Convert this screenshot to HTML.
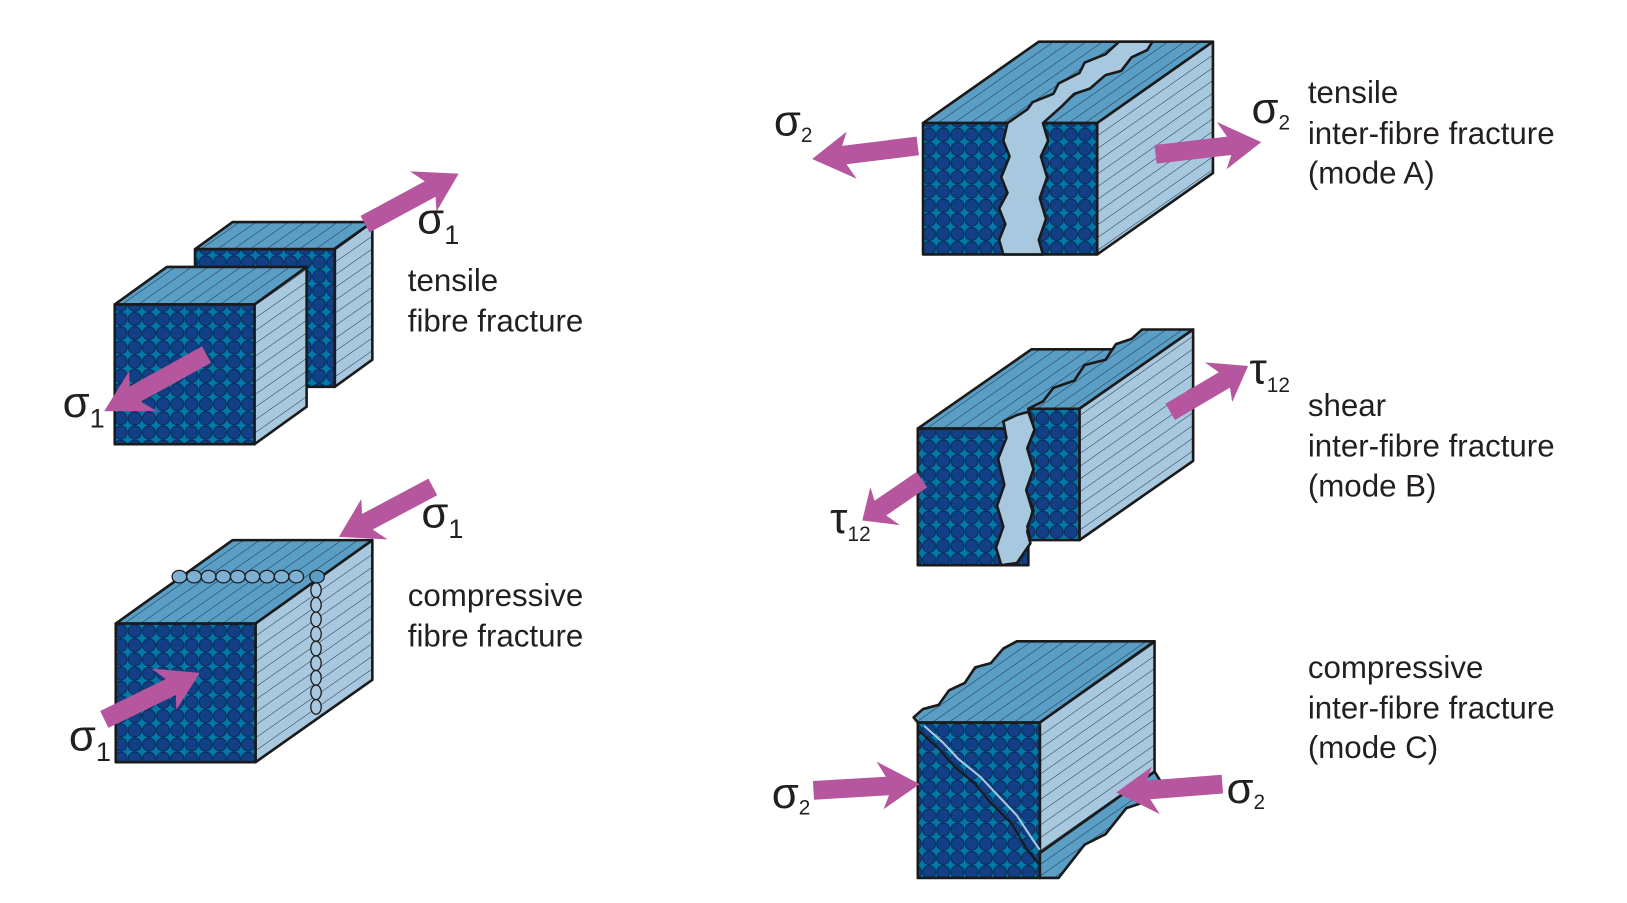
<!DOCTYPE html>
<html><head><meta charset="utf-8"><style>
html,body{margin:0;padding:0;background:#fff;}
svg{display:block;}
text{font-family:"Liberation Sans",sans-serif;fill:#231f20;}
</style></head><body>
<svg width="1627" height="903" viewBox="0 0 1560 866" preserveAspectRatio="none" xmlns="http://www.w3.org/2000/svg">
<defs>
<pattern id="circ" patternUnits="userSpaceOnUse" width="13.6" height="13.6" x="0" y="0">
<rect width="13.6" height="13.6" fill="#0078a8"/>
<circle cx="6.8" cy="6.8" r="6.2" fill="#123f86" stroke="#0a2550" stroke-width="0.9"/>
</pattern>
<pattern id="topS" patternUnits="userSpaceOnUse" width="9" height="9" patternTransform="rotate(-35)">
<rect width="9" height="9" fill="#5a9ec6"/>
<line x1="0" y1="0" x2="9" y2="0" stroke="#1a2a3a" stroke-width="0.9"/>
</pattern>
<pattern id="sideS" patternUnits="userSpaceOnUse" width="10" height="10" patternTransform="rotate(-35)">
<rect width="10" height="10" fill="#a8c8e0"/>
<line x1="0" y1="0" x2="10" y2="0" stroke="#1a2a3a" stroke-width="0.9"/>
</pattern>
<polygon id="arr" points="0,-9 70,-9 62,-24 102,0 66,22 72,9 0,9" fill="#b5569e"/>
</defs>
<g stroke="#1a1a1a" stroke-width="2.5" stroke-linejoin="round">

<!-- Tensile fibre fracture -->
<polygon points="187,239 223,213 357,213 321,239" fill="url(#topS)"/>
<polygon points="321,239 357,213 357,345 321,371" fill="url(#sideS)"/>
<rect x="187" y="239" width="134" height="132" fill="url(#circ)"/>
<polygon points="110,292 160,256 294,256 244,292" fill="url(#topS)"/>
<polygon points="244,292 294,256 294,390 244,426" fill="url(#sideS)"/>
<rect x="110" y="292" width="134" height="134" fill="url(#circ)"/>

<!-- Compressive fibre fracture -->
<polygon points="111,598 223,518 357,518 245,598" fill="url(#topS)"/>
<polygon points="245,598 357,518 357,652 245,731" fill="url(#sideS)"/>
<rect x="111" y="598" width="134" height="133" fill="url(#circ)"/>
<g fill="#7fb0d4" stroke-width="1.2">
<ellipse cx="172" cy="553" rx="7" ry="6"/><ellipse cx="186" cy="553" rx="7" ry="6"/><ellipse cx="200" cy="553" rx="7" ry="6"/><ellipse cx="214" cy="553" rx="7" ry="6"/><ellipse cx="228" cy="553" rx="7" ry="6"/><ellipse cx="242" cy="553" rx="7" ry="6"/><ellipse cx="256" cy="553" rx="7" ry="6"/><ellipse cx="270" cy="553" rx="7" ry="6"/><ellipse cx="284" cy="553" rx="7" ry="6"/><ellipse cx="304" cy="553" rx="7" ry="6" fill="#5a9ec6"/>
<ellipse cx="303" cy="566" rx="5" ry="7" fill="#a8c8e0"/><ellipse cx="303" cy="580" rx="5" ry="7" fill="#a8c8e0"/><ellipse cx="303" cy="594" rx="5" ry="7" fill="#a8c8e0"/><ellipse cx="303" cy="608" rx="5" ry="7" fill="#a8c8e0"/><ellipse cx="303" cy="622" rx="5" ry="7" fill="#a8c8e0"/><ellipse cx="303" cy="636" rx="5" ry="7" fill="#a8c8e0"/><ellipse cx="303" cy="650" rx="5" ry="7" fill="#a8c8e0"/><ellipse cx="303" cy="664" rx="5" ry="7" fill="#a8c8e0"/><ellipse cx="303" cy="678" rx="5" ry="7" fill="#a8c8e0"/>
</g>

<!-- Mode A -->
<polygon points="885,118 996,40 1163,40 1052,118" fill="url(#topS)"/>
<polygon points="1052,118 1163,40 1163,166 1052,244" fill="url(#sideS)"/>
<rect x="885" y="118" width="167" height="126" fill="url(#circ)"/>
<polygon points="962,244 958,230 964,215 958,200 966,185 960,170 968,150 962,135 966,118 985,105 990,98 1010,90 1015,80 1035,70 1040,60 1060,52 1073,40 1105,40 1100,48 1085,55 1075,68 1060,72 1045,85 1030,90 1018,102 1000,118 1005,135 998,150 1004,170 997,190 1003,210 996,230 1000,244" fill="#a8c8e0"/>

<!-- Mode B -->
<polygon points="880,411 989,335 1095,335 986,411" fill="url(#topS)"/>
<rect x="880" y="411" width="106" height="131" fill="url(#circ)"/>
<polygon points="960,542 955,525 962,505 956,485 963,465 957,440 965,420 962,404 975,398 986,395 992,412 985,430 991,450 984,470 990,490 985,510 988,521 975,540" fill="#a8c8e0"/>
<polygon points="986,392 1000,385 1010,372 1030,365 1040,350 1060,345 1070,330 1085,325 1095,316 1144,316 1035,392" fill="url(#topS)"/>
<polygon points="1035,392 1144,316 1144,442 1035,518" fill="url(#sideS)"/>
<polygon points="986,392 1035,392 1035,518 988,518 985,505 991,490 984,470 991,450 985,430 992,412" fill="url(#circ)"/>

<!-- Mode C -->
<polygon points="997,818 1107,740 1112,748 1095,770 1080,775 1060,800 1040,810 1015,842 997,842" fill="url(#topS)"/>
<polygon points="876,688 885,680 900,676 910,662 925,655 935,640 950,636 962,622 975,615 1107,615 997,693 880,693" fill="url(#topS)"/>
<polygon points="997,693 1107,615 1107,740 997,818" fill="url(#sideS)"/>
<rect x="880" y="693" width="117" height="149" fill="url(#circ)"/>
<polyline points="880,700 900,718 915,735 935,752 950,770 970,790 985,815 997,830" fill="none" stroke-width="2"/>
<polyline points="886,696 904,712 919,728 940,745 956,762 975,782 990,805 997,815" fill="none" stroke="#a8c8e0" stroke-width="2"/>
</g>

<!-- Arrows -->
<use href="#arr" transform="translate(350,215) rotate(-28.4)"/>
<use href="#arr" transform="translate(198,340) rotate(151) scale(1.1,1)"/>
<use href="#arr" transform="translate(415,467) rotate(152)"/>
<use href="#arr" transform="translate(100,690) rotate(-26)"/>
<use href="#arr" transform="translate(880,140) rotate(173)"/>
<use href="#arr" transform="translate(1108,148) rotate(-6.6)"/>
<use href="#arr" transform="translate(1122,395) rotate(-30.5) scale(0.85,1)"/>
<use href="#arr" transform="translate(884,460) rotate(145.6) scale(0.68,1)"/>
<use href="#arr" transform="translate(780,758) rotate(-3.4)"/>
<use href="#arr" transform="translate(1172,752) rotate(175.5)"/>

<!-- Symbols -->
<g font-size="42">
<text x="400" y="224">σ<tspan font-size="26" dy="10">1</tspan></text>
<text x="60" y="400">σ<tspan font-size="26" dy="10">1</tspan></text>
<text x="404" y="506">σ<tspan font-size="26" dy="10">1</tspan></text>
<text x="66" y="720">σ<tspan font-size="26" dy="10">1</tspan></text>
<text x="742" y="130">σ<tspan font-size="20" dy="6">2</tspan></text>
<text x="1200" y="118">σ<tspan font-size="20" dy="6">2</tspan></text>
<text x="1198" y="368">τ<tspan font-size="20" dy="8">12</tspan></text>
<text x="796" y="511">τ<tspan font-size="20" dy="8">12</tspan></text>
<text x="740" y="775">σ<tspan font-size="20" dy="6">2</tspan></text>
<text x="1176" y="770">σ<tspan font-size="20" dy="6">2</tspan></text>
</g>
<!-- Labels -->
<g font-size="30">
<text x="391" y="279">tensile</text>
<text x="391" y="318">fibre fracture</text>
<text x="391" y="581">compressive</text>
<text x="391" y="620">fibre fracture</text>
<text x="1254" y="99">tensile</text>
<text x="1254" y="138">inter-fibre fracture</text>
<text x="1254" y="176">(mode A)</text>
<text x="1254" y="399">shear</text>
<text x="1254" y="438">inter-fibre fracture</text>
<text x="1254" y="476">(mode B)</text>
<text x="1254" y="650">compressive</text>
<text x="1254" y="689">inter-fibre fracture</text>
<text x="1254" y="727">(mode C)</text>
</g>
</svg>
</body></html>
